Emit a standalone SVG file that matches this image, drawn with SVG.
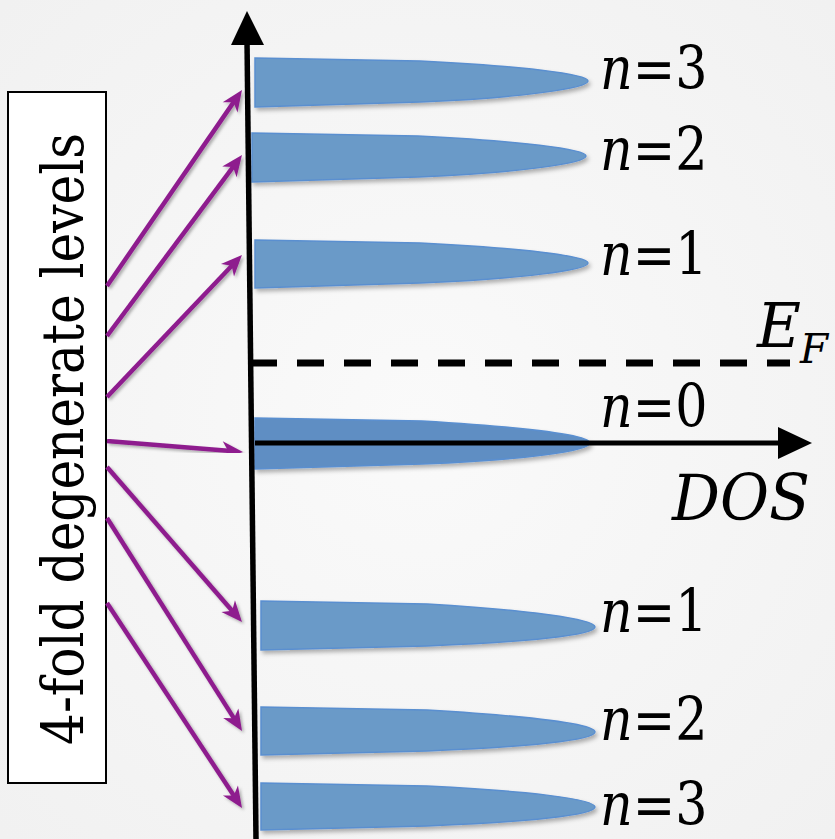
<svg xmlns="http://www.w3.org/2000/svg" width="835" height="839" viewBox="0 0 835 839">
<style>
text{font-family:"DejaVu Serif","Liberation Serif","Times New Roman",serif;fill:#000}
.lbl{font-size:59px}
.it{font-style:italic}
.blob{fill:#6b9ac8;stroke:#5a8fd0;stroke-width:1.5;filter:url(#sh)}
.conn{stroke:#8e1e8e;stroke-width:4.5;fill:none;marker-end:url(#ah);filter:url(#sh2)}
</style>
<defs>
<filter id="sh" x="-5%" y="-20%" width="110%" height="150%"><feDropShadow dx="2" dy="3" stdDeviation="2" flood-color="#000" flood-opacity="0.3"/></filter>
<filter id="sh2" x="-20%" y="-20%" width="140%" height="140%"><feDropShadow dx="2" dy="2" stdDeviation="1.5" flood-color="#000" flood-opacity="0.3"/></filter>
<marker id="ah" markerUnits="userSpaceOnUse" viewBox="-12 -12 26 24" markerWidth="26" markerHeight="24" refX="0" refY="0" orient="auto" overflow="visible">
<path d="M12,0 L-9,-9 L-3,0 L-9,9 Z" fill="#8e1e8e"/>
</marker>
<radialGradient id="bg" cx="0.5" cy="0.5" r="0.7"><stop offset="0" stop-color="#fafafa"/><stop offset="1" stop-color="#f1f1f1"/></radialGradient>
</defs>
<rect width="835" height="839" fill="url(#bg)"/>

<g id="box">
<rect x="8" y="92" width="98" height="691" fill="#fff" stroke="#000" stroke-width="2"/>
<text font-size="58" text-anchor="middle" textLength="612" lengthAdjust="spacingAndGlyphs" transform="translate(83,439) rotate(-90)">4-fold degenerate levels</text>
</g>

<g id="level-p3">
<path class="blob" d="M255,58 L420,61 C520,66 588,74 588,81 C588,88 520,98 420,102 L255,107 Z"/>
<text class="lbl" transform="translate(600,89) scale(0.86,1)"><tspan class="it">n</tspan>=3</text>
</g>
<g id="level-p2">
<path class="blob" d="M252,133 L418,136 C518,141 586,149 586,156 C586,163 518,173 418,177 L252,182 Z"/>
<text class="lbl" transform="translate(600,170) scale(0.86,1)"><tspan class="it">n</tspan>=2</text>
</g>
<g id="level-p1">
<path class="blob" d="M255,240 L420,243 C520,248 588,256 588,263 C588,270 520,279 420,283 L255,288 Z"/>
<text class="lbl" transform="translate(600,275) scale(0.86,1)"><tspan class="it">n</tspan>=1</text>
</g>
<g id="level-0">
<path class="blob" style="fill:#5f8ec3" d="M255,418 L422,421 C522,427 590,435 590,443 C590,451 522,460 422,464 L255,469 Z"/>
<text class="lbl" transform="translate(600,427) scale(0.86,1)"><tspan class="it">n</tspan>=0</text>
</g>
<g id="level-m1">
<path class="blob" d="M261,601 L427,604 C527,610 595,619 595,627 C595,635 527,642 427,646 L261,650 Z"/>
<text class="lbl" transform="translate(600,632) scale(0.86,1)"><tspan class="it">n</tspan>=1</text>
</g>
<g id="level-m2">
<path class="blob" d="M261,707 L427,710 C527,716 595,724 595,732 C595,740 527,747 427,751 L261,755 Z"/>
<text class="lbl" transform="translate(600,740) scale(0.86,1)"><tspan class="it">n</tspan>=2</text>
</g>
<g id="level-m3">
<path class="blob" d="M261,783 L427,786 C527,791 595,799 595,807 C595,815 527,822 427,826 L261,830 Z"/>
<text class="lbl" transform="translate(600,825) scale(0.86,1)"><tspan class="it">n</tspan>=3</text>
</g>

<g id="axes">
<line x1="255" y1="443" x2="782" y2="443" stroke="#000" stroke-width="5"/>
<polygon points="812,443 778,427 778,459" fill="#000"/>
<text class="it" x="672" y="520" font-size="64" textLength="138" lengthAdjust="spacingAndGlyphs">DOS</text>
<line x1="247" y1="40" x2="256" y2="839" stroke="#000" stroke-width="5.5"/>
<polygon points="247,11 231,45 264,45" fill="#000"/>
</g>

<g id="fermi">
<line x1="250" y1="363" x2="790" y2="363" stroke="#000" stroke-width="7" stroke-dasharray="27 20"/>
<text class="it" x="757" y="347" font-size="62" textLength="44" lengthAdjust="spacingAndGlyphs">E</text>
<text class="it" x="800" y="363" font-size="41" textLength="28" lengthAdjust="spacingAndGlyphs">F</text>
</g>

<g id="connectors">
<line class="conn" x1="107" y1="286" x2="235.2" y2="99.9"/>
<line class="conn" x1="107" y1="336" x2="234.8" y2="164.6"/>
<line class="conn" x1="107" y1="397" x2="233.7" y2="263.7"/>
<line class="conn" x1="107" y1="441" x2="231" y2="451"/>
<line class="conn" x1="107" y1="467" x2="234.1" y2="613"/>
<line class="conn" x1="107" y1="518" x2="235.6" y2="720.9"/>
<line class="conn" x1="107" y1="603" x2="235.4" y2="798"/>
</g>
</svg>
